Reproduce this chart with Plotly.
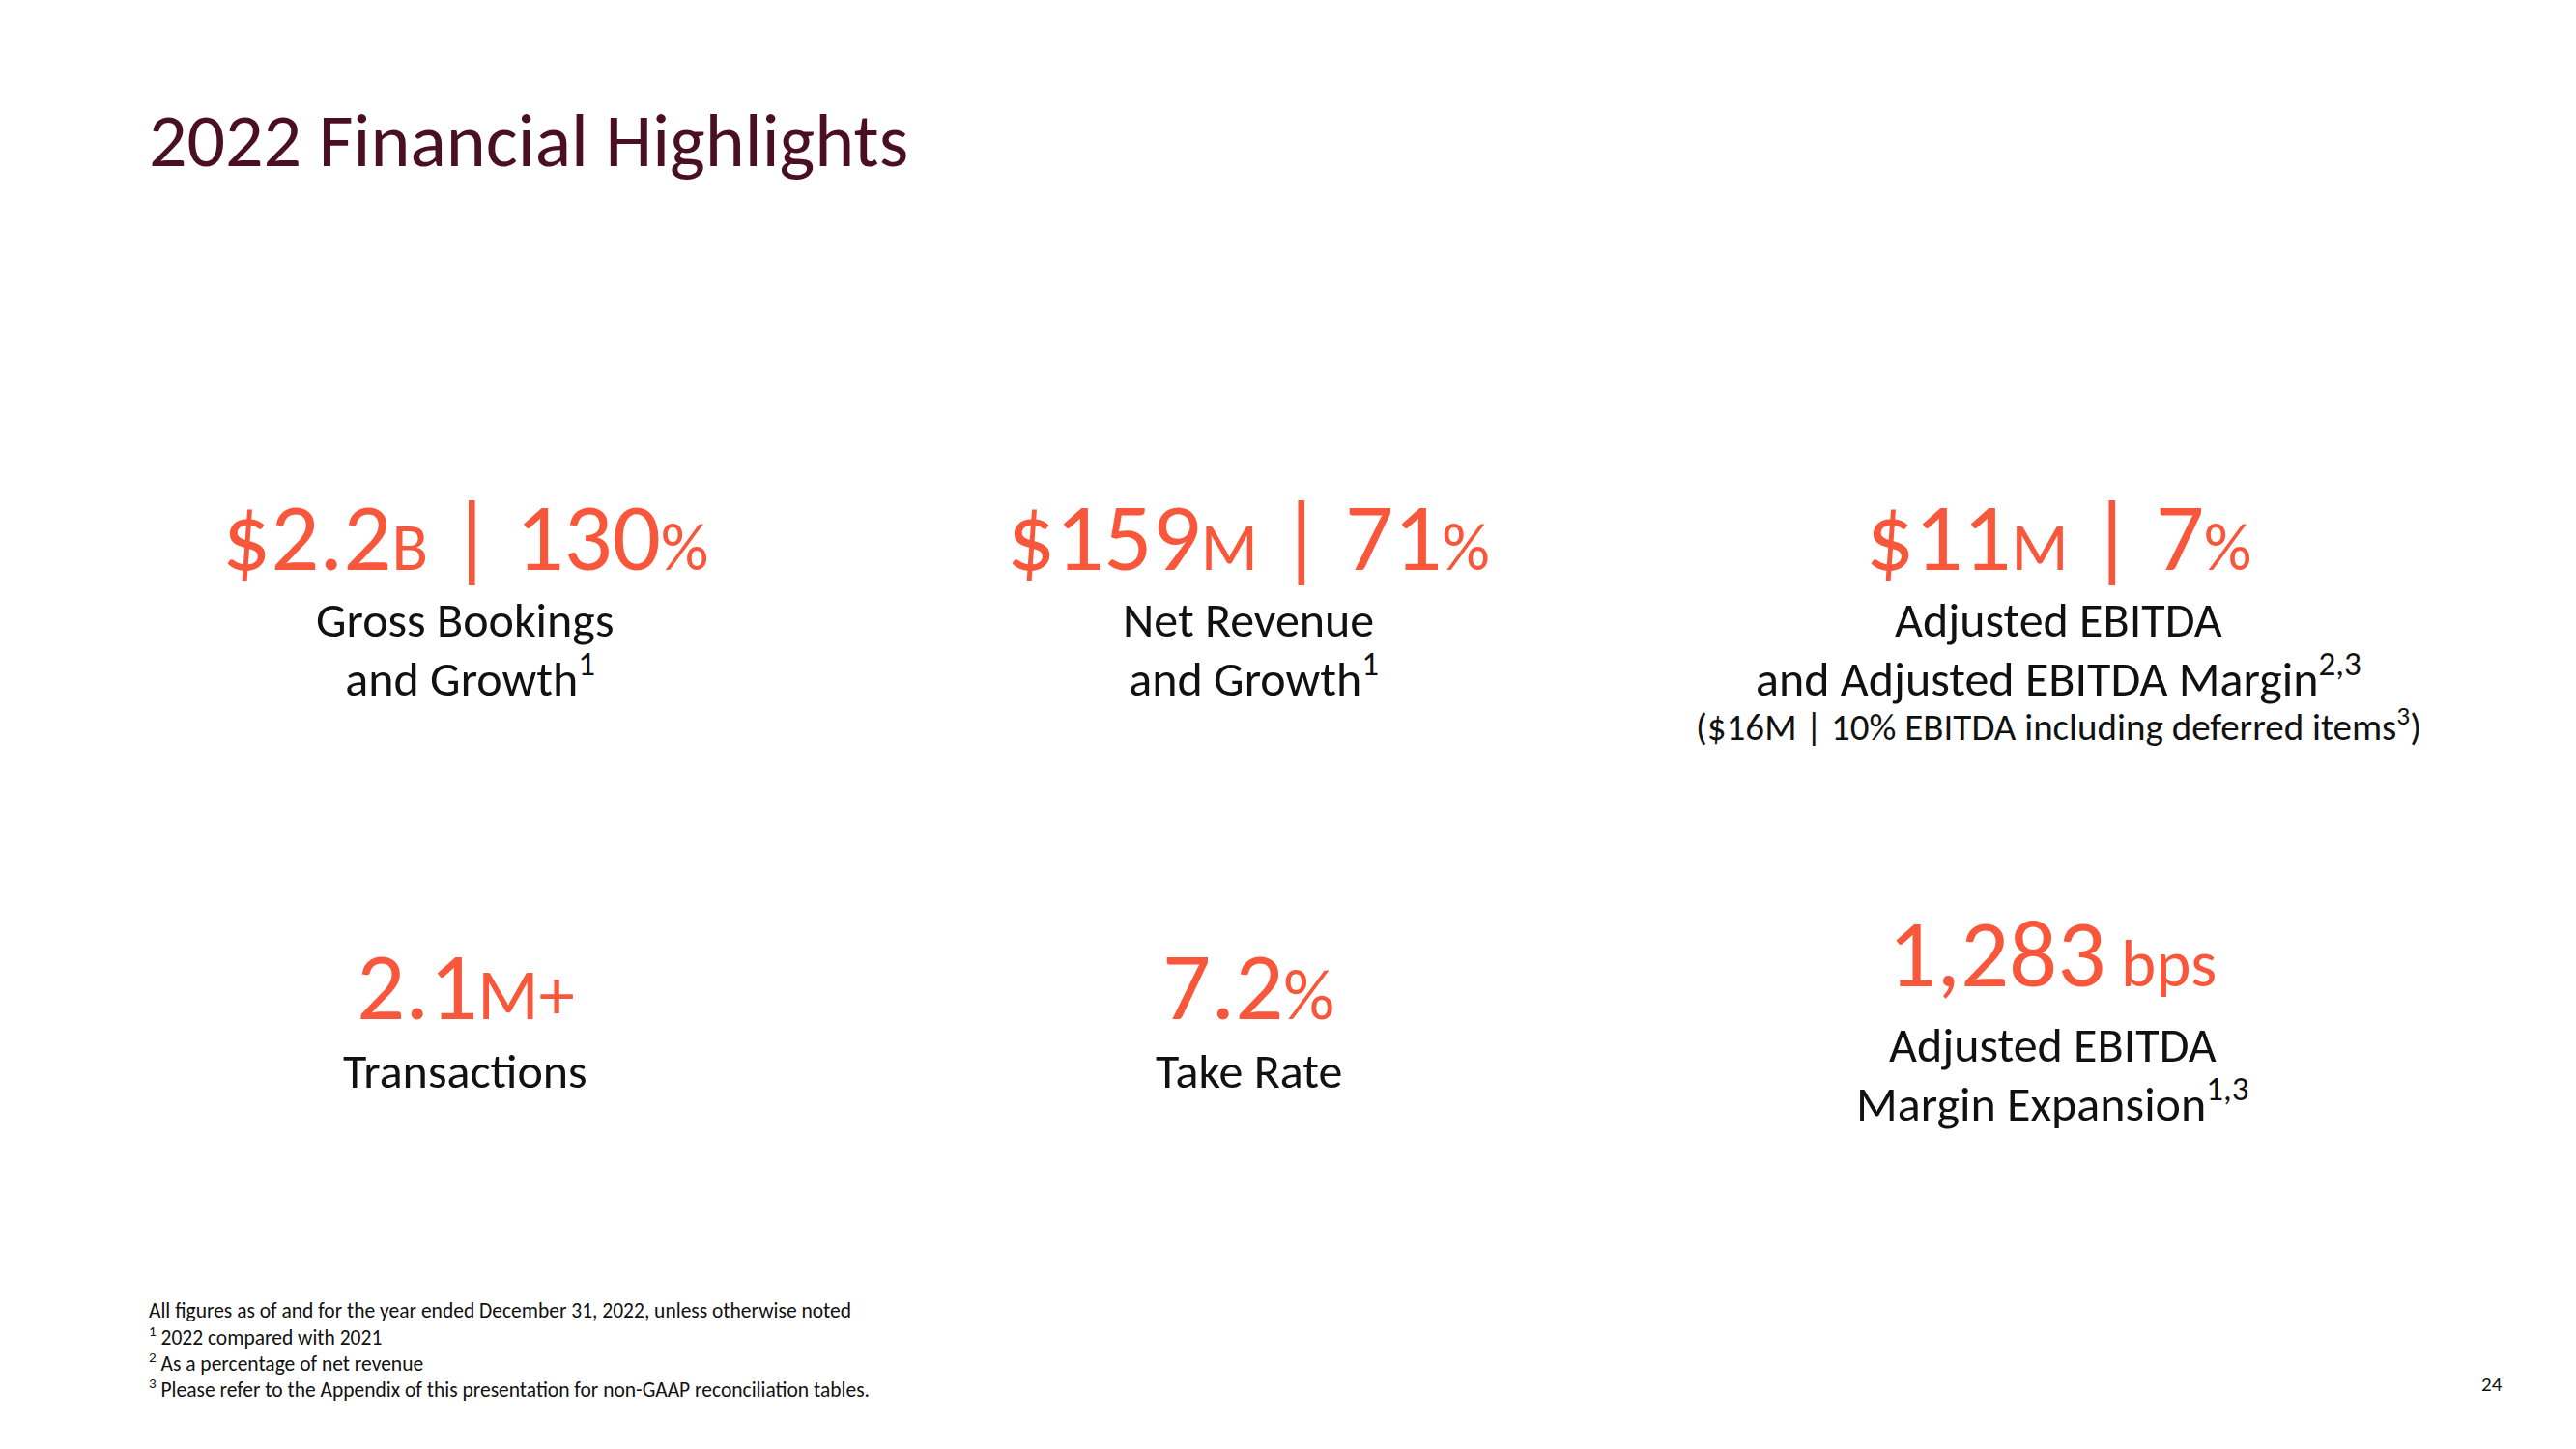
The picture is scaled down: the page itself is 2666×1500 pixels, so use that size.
import plotly.graph_objects as go

W, H = 2666, 1500

title_text = "2022 Financial Highlights"

kpi_main = ["$2.2", "$159", "$11", "2.1", "7.2", "1,283"]
kpi_unit = ["B", "M", "M", "M+", "%", " bps"]
kpi_growth = ["130", "71", "7", None, None, None]
growth_unit = "%"
kpi_labels = [
    ["Gross Bookings", " and Growth<sup>1</sup>"],
    ["Net Revenue", " and Growth<sup>1</sup>"],
    ["Adjusted EBITDA", "and Adjusted EBITDA Margin<sup>2,3</sup>"],
    ["Transactions"],
    ["Take Rate"],
    ["Adjusted EBITDA", "Margin Expansion<sup>1,3</sup>"],
]
kpi_note = [None, None, "($16M | 10% EBITDA including deferred items<sup>3</sup>)", None, None, None]

footnotes = [
    "All figures as of and for the year ended December 31, 2022, unless otherwise noted",
    "<sup>1</sup> 2022 compared with 2021",
    "<sup>2</sup> As a percentage of net revenue",
    "<sup>3</sup> Please refer to the Appendix of this presentation for non-GAAP reconciliation tables.",
]
page_number = "24"

FONT = "Carlito, Lato, sans-serif"
ORANGE = "#F9573B"
MAROON = "#4B0F24"
BLACK = "#111111"

# layout positions (pixels)
col_x = [481, 1292, 2130, 481, 1292, 2124]
num_y = [556, 556, 556, 1021, 1021, 988]
label_y0 = [641, 641, 641, 1108, 1108, 1081]
line_h = 58
note_y = 750

BIG = 99
UNIT = 69
UNIT_ROW2 = 74
LABEL = 50
NOTE = 39
FOOT = 21.5


def px(x, y):
    return x / W, 1 - y / H


annotations = []

tx, ty = px(152, 145)
annotations.append(dict(x=tx, y=ty, xref="paper", yref="paper", xanchor="left", yanchor="middle",
                        text=title_text, showarrow=False,
                        font=dict(family=FONT, size=78, color=MAROON)))

for i in range(len(kpi_main)):
    us = UNIT if kpi_growth[i] is not None or i == 5 else UNIT_ROW2
    t = kpi_main[i] + f'<span style="font-size:{us}px">{kpi_unit[i]}</span>'
    if kpi_growth[i] is not None:
        t += " | " + kpi_growth[i] + f'<span style="font-size:{UNIT}px">{growth_unit}</span>'
    x, y = px(col_x[i], num_y[i])
    annotations.append(dict(x=x, y=y, xref="paper", yref="paper", xanchor="center", yanchor="middle",
                            text=t, showarrow=False,
                            font=dict(family=FONT, size=BIG, color=ORANGE)))
    for j, line in enumerate(kpi_labels[i]):
        x, y = px(col_x[i], label_y0[i] + j * line_h)
        annotations.append(dict(x=x, y=y, xref="paper", yref="paper", xanchor="center", yanchor="middle",
                                text=line, showarrow=False,
                                font=dict(family=FONT, size=LABEL, color=BLACK)))
    if kpi_note[i] is not None:
        x, y = px(col_x[i], note_y)
        annotations.append(dict(x=x, y=y, xref="paper", yref="paper", xanchor="center", yanchor="middle",
                                text=kpi_note[i], showarrow=False,
                                font=dict(family=FONT, size=NOTE, color=BLACK)))

foot_y = [1357, 1383, 1410, 1437]
for k, f in enumerate(footnotes):
    x, y = px(152, foot_y[k])
    annotations.append(dict(x=x, y=y, xref="paper", yref="paper", xanchor="left", yanchor="middle",
                            text=f, showarrow=False,
                            font=dict(family=FONT, size=FOOT, color=BLACK)))

x, y = px(2579, 1433)
annotations.append(dict(x=x, y=y, xref="paper", yref="paper", xanchor="center", yanchor="middle",
                        text=page_number, showarrow=False,
                        font=dict(family=FONT, size=21, color=BLACK)))

fig = go.Figure()
fig.update_layout(
    width=W, height=H,
    margin=dict(l=0, r=0, t=0, b=0),
    paper_bgcolor="white", plot_bgcolor="white",
    xaxis=dict(visible=False, range=[0, 1]),
    yaxis=dict(visible=False, range=[0, 1]),
    annotations=annotations,
    showlegend=False,
)
fig.write_html("out.html",
               config={"displayModeBar": False},
               post_script="document.body.style.margin='0';document.body.style.overflow='hidden';")
